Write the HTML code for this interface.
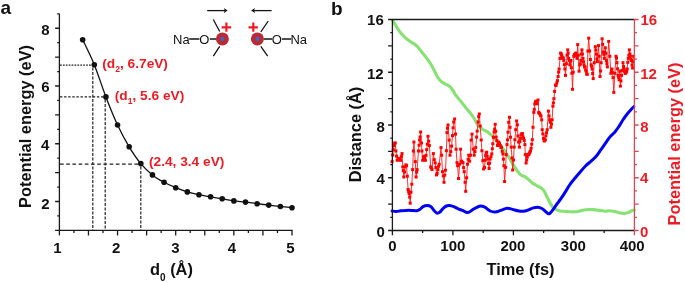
<!DOCTYPE html>
<html><head><meta charset="utf-8"><style>
html,body{margin:0;padding:0;background:#fff;width:685px;height:282px;overflow:hidden}
svg{display:block;will-change:transform}
text{font-family:"Liberation Sans",sans-serif}
</style></head><body>
<svg width="685" height="282" viewBox="0 0 685 282">
<rect width="685" height="282" fill="#fff"/>
<g stroke="#1a1a1a" stroke-width="1.3" fill="none">
<path d="M59.4,13.8V235.4"/>
<path d="M55.1,230.4H292.6"/>
<path d="M55.1,201.52H59.4 M55.1,172.64H59.4 M55.1,143.76H59.4 M55.1,114.88H59.4 M55.1,86H59.4 M55.1,57.12H59.4 M55.1,28.24H59.4 M57.2,215.96H59.4 M57.2,187.08H59.4 M57.2,158.2H59.4 M57.2,129.32H59.4 M57.2,100.44H59.4 M57.2,71.56H59.4 M57.2,42.68H59.4 M57.2,13.8H59.4 M88.47,230.4V235.4 M117.55,230.4V235.4 M146.62,230.4V235.4 M175.7,230.4V235.4 M204.78,230.4V235.4 M233.85,230.4V235.4 M262.93,230.4V235.4 M292,230.4V235.4 M73.94,230.4V233 M103.01,230.4V233 M132.09,230.4V233 M161.16,230.4V233 M190.24,230.4V233 M219.31,230.4V233 M248.39,230.4V233 M277.46,230.4V233"/>
</g>
<g stroke="#222" stroke-width="1.2" fill="none">
<path d="M60,65.2H92.4" stroke-dasharray="1.75 1.15"/>
<path d="M60,96.9H104" stroke-dasharray="2.4 1.7"/>
<path d="M60,164.1H139" stroke-dasharray="3.7 2.5"/>
<path d="M92.8,67.5V230.4" stroke-dasharray="3 1.5"/>
<path d="M105.2,99.5V230.4" stroke-dasharray="3 1.5"/>
<path d="M140.8,166.5V230.4" stroke-dasharray="3 1.5"/>
</g>
<path d="M82.66,39.7 C84.6,43.87 90.41,55.17 94.29,64.7 C98.17,74.23 102.04,86.85 105.92,96.9 C109.8,106.95 113.67,116.68 117.55,125 C121.43,133.32 125.3,140.37 129.18,146.8 C133.06,153.23 136.93,158.92 140.81,163.6 C144.69,168.28 148.56,171.78 152.44,174.9 C156.32,178.02 160.19,180.17 164.07,182.3 C167.95,184.43 171.82,186.1 175.7,187.7 C179.58,189.3 183.45,190.73 187.33,191.9 C191.21,193.07 195.08,193.88 198.96,194.7 C202.84,195.52 206.71,196.12 210.59,196.8 C214.47,197.48 218.34,198.12 222.22,198.8 C226.1,199.48 229.97,200.35 233.85,200.9 C237.73,201.45 241.6,201.63 245.48,202.1 C249.36,202.57 253.23,203.2 257.11,203.7 C260.99,204.2 264.86,204.63 268.74,205.1 C272.62,205.57 276.49,206.07 280.37,206.5 C284.25,206.93 290.06,207.5 292,207.7" stroke="#111" stroke-width="1.3" fill="none"/>
<g fill="#111">
<circle cx="82.66" cy="39.7" r="2.8"/>
<circle cx="94.29" cy="64.7" r="2.8"/>
<circle cx="105.92" cy="96.9" r="2.8"/>
<circle cx="117.55" cy="125" r="2.8"/>
<circle cx="129.18" cy="146.8" r="2.8"/>
<circle cx="140.81" cy="163.6" r="2.8"/>
<circle cx="152.44" cy="174.9" r="2.8"/>
<circle cx="164.07" cy="182.3" r="2.8"/>
<circle cx="175.7" cy="187.7" r="2.8"/>
<circle cx="187.33" cy="191.9" r="2.8"/>
<circle cx="198.96" cy="194.7" r="2.8"/>
<circle cx="210.59" cy="196.8" r="2.8"/>
<circle cx="222.22" cy="198.8" r="2.8"/>
<circle cx="233.85" cy="200.9" r="2.8"/>
<circle cx="245.48" cy="202.1" r="2.8"/>
<circle cx="257.11" cy="203.7" r="2.8"/>
<circle cx="268.74" cy="205.1" r="2.8"/>
<circle cx="280.37" cy="206.5" r="2.8"/>
<circle cx="292" cy="207.7" r="2.8"/>
</g>
<g font-family="Liberation Sans, sans-serif" font-weight="bold" font-size="15" fill="#111">
<text x="41.21" y="34.71">8</text>
<text x="41.21" y="91.94">6</text>
<text x="40.91" y="149.64">4</text>
<text x="41.21" y="209.05">2</text>
<text x="53.36" y="252.84">1</text>
<text x="111.96" y="252.8">2</text>
<text x="171.16" y="252.79">3</text>
<text x="227.81" y="252.64">4</text>
<text x="286.26" y="252.97">5</text>
</g>
<path d="M392.6,20.3 C393.05,21.02 394.32,23 395.3,24.6 C396.28,26.2 397.43,28.32 398.5,29.9 C399.57,31.48 400.45,32.68 401.7,34.1 C402.95,35.52 404.4,37.05 406,38.4 C407.6,39.75 409.72,41.13 411.3,42.2 C412.88,43.27 414.27,43.83 415.5,44.8 C416.73,45.77 417.63,46.77 418.7,48 C419.77,49.23 420.65,50.6 421.9,52.2 C423.15,53.8 424.78,55.72 426.2,57.6 C427.62,59.48 429.05,61.35 430.4,63.5 C431.75,65.65 433.13,68.3 434.3,70.5 C435.47,72.7 436.35,74.98 437.4,76.7 C438.45,78.42 439.35,79.63 440.6,80.8 C441.85,81.97 443.48,82.83 444.9,83.7 C446.32,84.57 447.87,85.03 449.1,86 C450.33,86.97 451.23,88.03 452.3,89.5 C453.37,90.97 454.25,93.03 455.5,94.8 C456.75,96.57 458.38,98.33 459.8,100.1 C461.22,101.87 462.58,103.63 464,105.4 C465.42,107.17 466.87,108.92 468.3,110.7 C469.73,112.48 471.4,114.42 472.6,116.1 C473.8,117.78 474.52,119.12 475.5,120.8 C476.48,122.48 477.28,124.75 478.5,126.2 C479.72,127.65 481.38,128.6 482.8,129.5 C484.22,130.4 485.58,130.65 487,131.6 C488.42,132.55 489.88,133.88 491.3,135.2 C492.72,136.52 494.08,137.9 495.5,139.5 C496.92,141.1 498.38,143.03 499.8,144.8 C501.22,146.57 502.58,148.15 504,150.1 C505.42,152.05 507.05,154.55 508.3,156.5 C509.55,158.45 510.43,160.03 511.5,161.8 C512.57,163.57 513.63,165.43 514.7,167.1 C515.77,168.77 516.85,170.48 517.9,171.8 C518.95,173.12 519.98,174.27 521,175 C522.02,175.73 522.82,175.52 524,176.2 C525.18,176.88 526.72,177.97 528.1,179.1 C529.48,180.23 530.88,181.93 532.3,183 C533.72,184.07 535.17,184.72 536.6,185.5 C538.03,186.28 539.67,186.8 540.9,187.7 C542.13,188.6 542.95,189.32 544,190.9 C545.05,192.48 546.13,195.08 547.2,197.2 C548.27,199.32 549.33,201.82 550.4,203.6 C551.47,205.38 552.35,206.77 553.6,207.9 C554.85,209.03 556.3,209.83 557.9,210.4 C559.5,210.97 561.25,211.07 563.2,211.3 C565.15,211.53 567.58,211.72 569.6,211.8 C571.62,211.88 573.47,211.98 575.3,211.8 C577.13,211.62 578.82,211.05 580.6,210.7 C582.38,210.35 583.87,209.88 586,209.7 C588.13,209.52 591.1,209.48 593.4,209.6 C595.7,209.72 597.85,210.13 599.8,210.4 C601.75,210.67 603.5,211.15 605.1,211.2 C606.7,211.25 607.8,210.65 609.4,210.7 C611,210.75 612.93,211.13 614.7,211.5 C616.47,211.87 618.4,212.55 620,212.9 C621.6,213.25 622.97,213.65 624.3,213.6 C625.63,213.55 626.77,213.08 628,212.6 C629.23,212.12 630.63,211.15 631.7,210.7 C632.77,210.25 633.95,210.03 634.4,209.9" stroke="#86E272" stroke-width="3.1" fill="none" stroke-linecap="round" stroke-linejoin="round"/>
<path d="M392.1,211 C392.82,211.08 394.98,211.55 396.4,211.5 C397.82,211.45 399,210.88 400.6,210.7 C402.2,210.52 404.22,210.45 406,210.4 C407.78,210.35 409.53,210.35 411.3,210.4 C413.07,210.45 415.18,210.87 416.6,210.7 C418.02,210.53 418.73,210.07 419.8,209.4 C420.87,208.73 421.77,207.33 423,206.7 C424.23,206.07 425.87,205.6 427.2,205.6 C428.53,205.6 429.93,205.98 431,206.7 C432.07,207.42 432.63,208.83 433.6,209.9 C434.57,210.97 435.73,212.75 436.8,213.1 C437.87,213.45 438.93,212.8 440,212 C441.07,211.2 442.13,209.3 443.2,208.3 C444.27,207.3 445.33,206.45 446.4,206 C447.47,205.55 448.37,205.48 449.6,205.6 C450.83,205.72 452.37,206.17 453.8,206.7 C455.23,207.23 456.77,208.18 458.2,208.8 C459.63,209.42 460.8,209.77 462.4,210.4 C464,211.03 466.02,212.77 467.8,212.6 C469.58,212.43 471.15,210.47 473.1,209.4 C475.05,208.33 477.55,206.57 479.5,206.2 C481.45,205.83 483.03,206.4 484.8,207.2 C486.57,208 488.33,210.2 490.1,211 C491.87,211.8 493.63,212.1 495.4,212 C497.17,211.9 498.75,211.02 500.7,210.4 C502.65,209.78 505.15,208.47 507.1,208.3 C509.05,208.13 510.45,208.95 512.4,209.4 C514.35,209.85 516.72,210.72 518.8,211 C520.88,211.28 523.18,211.33 524.9,211.1 C526.62,210.87 527.68,210.13 529.1,209.6 C530.52,209.07 531.97,208.3 533.4,207.9 C534.83,207.5 536.28,207.1 537.7,207.2 C539.12,207.3 540.67,207.85 541.9,208.5 C543.13,209.15 544.03,210.22 545.1,211.1 C546.17,211.98 547.42,213.52 548.3,213.8 C549.18,214.08 549.52,213.62 550.4,212.8 C551.28,211.98 552.53,210.33 553.6,208.9 C554.67,207.47 555.55,205.95 556.8,204.2 C558.05,202.45 559.68,200.43 561.1,198.4 C562.52,196.37 563.88,194.23 565.3,192 C566.72,189.77 568,187.3 569.6,185 C571.2,182.7 573.13,180.38 574.9,178.2 C576.67,176.02 578.43,173.93 580.2,171.9 C581.97,169.87 583.72,167.77 585.5,166 C587.28,164.23 589.12,162.93 590.9,161.3 C592.68,159.67 594.62,158.02 596.2,156.2 C597.78,154.38 598.98,152.38 600.4,150.4 C601.82,148.42 603.2,146.43 604.7,144.3 C606.2,142.17 607.73,139.62 609.4,137.6 C611.07,135.58 613.12,134.05 614.7,132.2 C616.28,130.35 617.48,128.62 618.9,126.5 C620.32,124.38 621.78,121.63 623.2,119.5 C624.62,117.37 625.98,115.48 627.4,113.7 C628.82,111.92 630.63,109.97 631.7,108.8 C632.77,107.63 633.45,107.05 633.8,106.7" stroke="#0000F5" stroke-width="3" fill="none" stroke-linecap="round" stroke-linejoin="round"/>
<polyline points="392.1,161.6 392.7,155 393.35,149.77 394,145.6 394.65,143.25 395.3,143 395.9,151 396.55,156.1 397.2,160.3 398.25,158.37 399.3,159 399.95,159.76 400.6,160.3 401.3,156.55 402,153.6 402.8,166.9 403.3,170.62 403.8,177 404.5,171.97 405.2,166.9 405.85,164.86 406.5,165.6 407.3,176.2 408.1,189.5 408.6,191.3 409.1,193.5 409.65,197.06 410.2,203.2 411,192.2 411.8,184.2 412.6,169.6 413.4,151 413.9,142 415.3,161.6 416.1,177 416.6,172.07 417.1,169.6 418.5,151 419.05,145.27 419.6,140 420.1,136.98 420.6,132 421.5,143 421.9,151 422.7,160.3 423.35,157.17 424,156.3 424.7,157.47 425.4,160.3 426.05,155.33 426.7,149.6 427.35,144.29 428,136.3 428.7,141.18 429.4,145.6 430.7,166.9 431.35,167.94 432,169.6 433.4,153.6 434.3,159.68 435.2,162.9 435.85,167.54 436.5,174.9 437.2,173.33 437.9,169.6 438.55,166.32 439.2,164.3 441,147.6 441.6,155.2 442.5,171.7 443.25,175.93 444,182.3 444.75,175.1 445.5,170.2 446.4,150.7 447,132.6 447.5,128.23 448,125 449.2,140.1 450,155.2 450.8,151.6 451.6,146.1 452.5,135.6 453.1,127.84 453.7,122 454.6,119 455.5,134.1 456.1,149.2 457,162.7 457.6,165.7 458.5,178.5 459.7,164.2 460.6,149.2 461.5,161.2 462.25,162.19 463,162.7 463.6,167.62 464.2,171.7 465.1,182.3 465.7,191.3 466.6,177.8 467.5,164.2 468.1,159.32 468.7,155.2 469.6,161.2 470.5,155.2 471.1,140.1 472,134.1 473.3,149.2 474.2,155.2 474.95,151.54 475.7,147.6 476.6,137.1 477.2,131.1 478.1,122 478.7,116.69 479.3,114 480.2,126 481.2,140 481.9,150.7 482.8,160.7 483.6,169 484.5,167.4 485.1,160.18 485.7,155.6 486.2,153.02 486.7,152.2 487.2,156.14 487.7,159 488.4,163.53 489.1,168.5 489.6,163.19 490.1,159 490.95,156.71 491.8,153.9 492.3,148.71 492.8,143.8 493.45,137.3 494.1,132 494.65,129.03 495.2,124.3 495.7,131.3 496.2,137.1 496.85,140.53 497.5,145.5 498.2,144.02 498.9,142.1 499.55,143.88 500.2,145.5 500.85,147.48 501.5,147.2 502.2,151.24 502.9,153.9 503.4,159.16 503.9,165.7 504.6,181.5 505.6,167.4 506.2,154.6 507,144.6 507.5,139.84 508,132.2 508.7,122.3 509.5,117.3 510,127.3 510.5,137.2 511.2,147.1 512,158 512.7,170 513.5,160 514.2,147.1 514.9,139.7 515.7,129.7 516.6,121 517.4,124.8 517.9,135.9 518.6,142.1 519.4,147.1 519.9,141.6 520.4,138.4 521.1,134.7 521.75,133.85 522.4,133.5 523,136.72 523.6,138.4 524.25,140.46 524.9,144.6 525.3,154.6 526.1,163 526.7,159.97 527.3,157 527.95,154.42 528.6,154.6 529.2,153.85 529.8,152.1 530.45,150.99 531.1,148.3 531.7,144.22 532.3,139.7 533,127.3 533.8,112.4 534.3,109.33 534.8,104 535.4,102.04 536,101.2 536.65,103.04 537.3,103.7 538,100 538.7,112.4 539.2,113.28 539.7,113.6 540.35,115.09 541,116.1 541.7,119.8 542.2,129.7 542.85,133.92 543.5,138.4 544.1,140.67 544.7,140.9 545.3,139.73 545.9,135.9 546.55,132.72 547.2,129.7 548.4,111.1 549.05,115.94 549.7,119.8 550.3,122.23 550.9,127.3 551.5,124.15 552.1,119.8 552.9,106.2 553.4,102.89 553.9,98.7 554.6,91.4 555.5,85 556.15,85.43 556.8,82.9 557.45,80.67 558.1,76.5 558.6,72.1 559.1,69 560,58.4 560.6,53.1 561.15,53.81 561.7,55.2 562.25,57.31 562.8,58.4 563.3,58.02 563.8,60.5 564.35,64.64 564.9,69 565.5,75.4 566.4,63.7 567,55.2 567.7,49.9 568.2,53.15 568.7,58.4 569.25,60.45 569.8,64.8 570.35,61.33 570.9,60.5 571.4,67.7 571.9,73.3 572.5,89.3 573.2,72.2 573.8,56.3 574.35,54.64 574.9,55.2 575.45,53.39 576,53.1 576.5,55.42 577,58.4 577.7,44.6 578.3,55.2 579.1,71.2 579.8,64.8 580.35,63.76 580.9,60.5 581.4,53.94 581.9,49.9 582.45,54 583,58.4 583.5,61.75 584,64.8 584.55,67 585.1,66.9 585.65,70.01 586.2,71.2 586.7,73.89 587.2,74.4 587.9,51 588.7,38.2 589.6,51 590.4,59.5 591.1,64.8 591.6,66.24 592.1,69 592.65,73.55 593.2,78.6 594.3,62.7 595.3,46.7 595.85,49.98 596.4,54.1 596.9,59 597.4,61.6 598.5,45.6 599.1,56.3 600,76.5 600.55,70.97 601.1,62.7 602.1,38.8 602.65,44.35 603.2,52 603.75,54.23 604.3,58.4 604.8,52.3 605.3,47.8 605.85,53.35 606.4,60.5 606.9,63.65 607.4,66.9 608.7,41.4 609.8,56.3 610.9,73.3 611.4,71.42 611.9,69 612.45,72.59 613,77.6 613.8,92.4 614.9,73.3 616,56.3 616.5,58.01 617,62.7 617.55,68.81 618.1,75.4 618.6,77.16 619.1,79.7 619.8,71.2 620.4,86.1 620.95,80.95 621.5,75.4 622.25,70.41 623,62.7 623.5,66.42 624,69 624.55,71.2 625.1,73.3 625.65,73.1 626.2,72.2 626.7,71.13 627.2,69 627.75,62.36 628.3,58.4 628.85,55.35 629.4,49.9 629.9,53.94 630.4,56.3 630.95,59.52 631.5,60.5 632.05,65.14 632.6,68 633.1,61.83 633.6,56.3" stroke="#FF1A1A" stroke-width="0.9" fill="none" stroke-linejoin="round"/>
<g fill="#FF0000">
<rect x="390.6" y="160.1" width="3" height="3"/>
<rect x="391.2" y="153.5" width="3" height="3"/>
<rect x="391.85" y="148.27" width="3" height="3"/>
<rect x="392.5" y="144.1" width="3" height="3"/>
<rect x="393.15" y="141.75" width="3" height="3"/>
<rect x="393.8" y="141.5" width="3" height="3"/>
<rect x="394.4" y="149.5" width="3" height="3"/>
<rect x="395.05" y="154.6" width="3" height="3"/>
<rect x="395.7" y="158.8" width="3" height="3"/>
<rect x="396.75" y="156.87" width="3" height="3"/>
<rect x="397.8" y="157.5" width="3" height="3"/>
<rect x="398.45" y="158.26" width="3" height="3"/>
<rect x="399.1" y="158.8" width="3" height="3"/>
<rect x="399.8" y="155.05" width="3" height="3"/>
<rect x="400.5" y="152.1" width="3" height="3"/>
<rect x="401.3" y="165.4" width="3" height="3"/>
<rect x="401.8" y="169.12" width="3" height="3"/>
<rect x="402.3" y="175.5" width="3" height="3"/>
<rect x="403" y="170.47" width="3" height="3"/>
<rect x="403.7" y="165.4" width="3" height="3"/>
<rect x="404.35" y="163.36" width="3" height="3"/>
<rect x="405" y="164.1" width="3" height="3"/>
<rect x="405.8" y="174.7" width="3" height="3"/>
<rect x="406.6" y="188" width="3" height="3"/>
<rect x="407.1" y="189.8" width="3" height="3"/>
<rect x="407.6" y="192" width="3" height="3"/>
<rect x="408.15" y="195.56" width="3" height="3"/>
<rect x="408.7" y="201.7" width="3" height="3"/>
<rect x="409.5" y="190.7" width="3" height="3"/>
<rect x="410.3" y="182.7" width="3" height="3"/>
<rect x="411.1" y="168.1" width="3" height="3"/>
<rect x="411.9" y="149.5" width="3" height="3"/>
<rect x="412.4" y="140.5" width="3" height="3"/>
<rect x="413.8" y="160.1" width="3" height="3"/>
<rect x="414.6" y="175.5" width="3" height="3"/>
<rect x="415.1" y="170.57" width="3" height="3"/>
<rect x="415.6" y="168.1" width="3" height="3"/>
<rect x="417" y="149.5" width="3" height="3"/>
<rect x="417.55" y="143.77" width="3" height="3"/>
<rect x="418.1" y="138.5" width="3" height="3"/>
<rect x="418.6" y="135.48" width="3" height="3"/>
<rect x="419.1" y="130.5" width="3" height="3"/>
<rect x="420" y="141.5" width="3" height="3"/>
<rect x="420.4" y="149.5" width="3" height="3"/>
<rect x="421.2" y="158.8" width="3" height="3"/>
<rect x="421.85" y="155.67" width="3" height="3"/>
<rect x="422.5" y="154.8" width="3" height="3"/>
<rect x="423.2" y="155.97" width="3" height="3"/>
<rect x="423.9" y="158.8" width="3" height="3"/>
<rect x="424.55" y="153.83" width="3" height="3"/>
<rect x="425.2" y="148.1" width="3" height="3"/>
<rect x="425.85" y="142.79" width="3" height="3"/>
<rect x="426.5" y="134.8" width="3" height="3"/>
<rect x="427.2" y="139.68" width="3" height="3"/>
<rect x="427.9" y="144.1" width="3" height="3"/>
<rect x="429.2" y="165.4" width="3" height="3"/>
<rect x="429.85" y="166.44" width="3" height="3"/>
<rect x="430.5" y="168.1" width="3" height="3"/>
<rect x="431.9" y="152.1" width="3" height="3"/>
<rect x="432.8" y="158.18" width="3" height="3"/>
<rect x="433.7" y="161.4" width="3" height="3"/>
<rect x="434.35" y="166.04" width="3" height="3"/>
<rect x="435" y="173.4" width="3" height="3"/>
<rect x="435.7" y="171.83" width="3" height="3"/>
<rect x="436.4" y="168.1" width="3" height="3"/>
<rect x="437.05" y="164.82" width="3" height="3"/>
<rect x="437.7" y="162.8" width="3" height="3"/>
<rect x="439.5" y="146.1" width="3" height="3"/>
<rect x="440.1" y="153.7" width="3" height="3"/>
<rect x="441" y="170.2" width="3" height="3"/>
<rect x="441.75" y="174.43" width="3" height="3"/>
<rect x="442.5" y="180.8" width="3" height="3"/>
<rect x="443.25" y="173.6" width="3" height="3"/>
<rect x="444" y="168.7" width="3" height="3"/>
<rect x="444.9" y="149.2" width="3" height="3"/>
<rect x="445.5" y="131.1" width="3" height="3"/>
<rect x="446" y="126.73" width="3" height="3"/>
<rect x="446.5" y="123.5" width="3" height="3"/>
<rect x="447.7" y="138.6" width="3" height="3"/>
<rect x="448.5" y="153.7" width="3" height="3"/>
<rect x="449.3" y="150.1" width="3" height="3"/>
<rect x="450.1" y="144.6" width="3" height="3"/>
<rect x="451" y="134.1" width="3" height="3"/>
<rect x="451.6" y="126.34" width="3" height="3"/>
<rect x="452.2" y="120.5" width="3" height="3"/>
<rect x="453.1" y="117.5" width="3" height="3"/>
<rect x="454" y="132.6" width="3" height="3"/>
<rect x="454.6" y="147.7" width="3" height="3"/>
<rect x="455.5" y="161.2" width="3" height="3"/>
<rect x="456.1" y="164.2" width="3" height="3"/>
<rect x="457" y="177" width="3" height="3"/>
<rect x="458.2" y="162.7" width="3" height="3"/>
<rect x="459.1" y="147.7" width="3" height="3"/>
<rect x="460" y="159.7" width="3" height="3"/>
<rect x="460.75" y="160.69" width="3" height="3"/>
<rect x="461.5" y="161.2" width="3" height="3"/>
<rect x="462.1" y="166.12" width="3" height="3"/>
<rect x="462.7" y="170.2" width="3" height="3"/>
<rect x="463.6" y="180.8" width="3" height="3"/>
<rect x="464.2" y="189.8" width="3" height="3"/>
<rect x="465.1" y="176.3" width="3" height="3"/>
<rect x="466" y="162.7" width="3" height="3"/>
<rect x="466.6" y="157.82" width="3" height="3"/>
<rect x="467.2" y="153.7" width="3" height="3"/>
<rect x="468.1" y="159.7" width="3" height="3"/>
<rect x="469" y="153.7" width="3" height="3"/>
<rect x="469.6" y="138.6" width="3" height="3"/>
<rect x="470.5" y="132.6" width="3" height="3"/>
<rect x="471.8" y="147.7" width="3" height="3"/>
<rect x="472.7" y="153.7" width="3" height="3"/>
<rect x="473.45" y="150.04" width="3" height="3"/>
<rect x="474.2" y="146.1" width="3" height="3"/>
<rect x="475.1" y="135.6" width="3" height="3"/>
<rect x="475.7" y="129.6" width="3" height="3"/>
<rect x="476.6" y="120.5" width="3" height="3"/>
<rect x="477.2" y="115.19" width="3" height="3"/>
<rect x="477.8" y="112.5" width="3" height="3"/>
<rect x="478.7" y="124.5" width="3" height="3"/>
<rect x="479.7" y="138.5" width="3" height="3"/>
<rect x="480.4" y="149.2" width="3" height="3"/>
<rect x="481.3" y="159.2" width="3" height="3"/>
<rect x="482.1" y="167.5" width="3" height="3"/>
<rect x="483" y="165.9" width="3" height="3"/>
<rect x="483.6" y="158.68" width="3" height="3"/>
<rect x="484.2" y="154.1" width="3" height="3"/>
<rect x="484.7" y="151.52" width="3" height="3"/>
<rect x="485.2" y="150.7" width="3" height="3"/>
<rect x="485.7" y="154.64" width="3" height="3"/>
<rect x="486.2" y="157.5" width="3" height="3"/>
<rect x="486.9" y="162.03" width="3" height="3"/>
<rect x="487.6" y="167" width="3" height="3"/>
<rect x="488.1" y="161.69" width="3" height="3"/>
<rect x="488.6" y="157.5" width="3" height="3"/>
<rect x="489.45" y="155.21" width="3" height="3"/>
<rect x="490.3" y="152.4" width="3" height="3"/>
<rect x="490.8" y="147.21" width="3" height="3"/>
<rect x="491.3" y="142.3" width="3" height="3"/>
<rect x="491.95" y="135.8" width="3" height="3"/>
<rect x="492.6" y="130.5" width="3" height="3"/>
<rect x="493.15" y="127.53" width="3" height="3"/>
<rect x="493.7" y="122.8" width="3" height="3"/>
<rect x="494.2" y="129.8" width="3" height="3"/>
<rect x="494.7" y="135.6" width="3" height="3"/>
<rect x="495.35" y="139.03" width="3" height="3"/>
<rect x="496" y="144" width="3" height="3"/>
<rect x="496.7" y="142.52" width="3" height="3"/>
<rect x="497.4" y="140.6" width="3" height="3"/>
<rect x="498.05" y="142.38" width="3" height="3"/>
<rect x="498.7" y="144" width="3" height="3"/>
<rect x="499.35" y="145.98" width="3" height="3"/>
<rect x="500" y="145.7" width="3" height="3"/>
<rect x="500.7" y="149.74" width="3" height="3"/>
<rect x="501.4" y="152.4" width="3" height="3"/>
<rect x="501.9" y="157.66" width="3" height="3"/>
<rect x="502.4" y="164.2" width="3" height="3"/>
<rect x="503.1" y="180" width="3" height="3"/>
<rect x="504.1" y="165.9" width="3" height="3"/>
<rect x="504.7" y="153.1" width="3" height="3"/>
<rect x="505.5" y="143.1" width="3" height="3"/>
<rect x="506" y="138.34" width="3" height="3"/>
<rect x="506.5" y="130.7" width="3" height="3"/>
<rect x="507.2" y="120.8" width="3" height="3"/>
<rect x="508" y="115.8" width="3" height="3"/>
<rect x="508.5" y="125.8" width="3" height="3"/>
<rect x="509" y="135.7" width="3" height="3"/>
<rect x="509.7" y="145.6" width="3" height="3"/>
<rect x="510.5" y="156.5" width="3" height="3"/>
<rect x="511.2" y="168.5" width="3" height="3"/>
<rect x="512" y="158.5" width="3" height="3"/>
<rect x="512.7" y="145.6" width="3" height="3"/>
<rect x="513.4" y="138.2" width="3" height="3"/>
<rect x="514.2" y="128.2" width="3" height="3"/>
<rect x="515.1" y="119.5" width="3" height="3"/>
<rect x="515.9" y="123.3" width="3" height="3"/>
<rect x="516.4" y="134.4" width="3" height="3"/>
<rect x="517.1" y="140.6" width="3" height="3"/>
<rect x="517.9" y="145.6" width="3" height="3"/>
<rect x="518.4" y="140.1" width="3" height="3"/>
<rect x="518.9" y="136.9" width="3" height="3"/>
<rect x="519.6" y="133.2" width="3" height="3"/>
<rect x="520.25" y="132.35" width="3" height="3"/>
<rect x="520.9" y="132" width="3" height="3"/>
<rect x="521.5" y="135.22" width="3" height="3"/>
<rect x="522.1" y="136.9" width="3" height="3"/>
<rect x="522.75" y="138.96" width="3" height="3"/>
<rect x="523.4" y="143.1" width="3" height="3"/>
<rect x="523.8" y="153.1" width="3" height="3"/>
<rect x="524.6" y="161.5" width="3" height="3"/>
<rect x="525.2" y="158.47" width="3" height="3"/>
<rect x="525.8" y="155.5" width="3" height="3"/>
<rect x="526.45" y="152.92" width="3" height="3"/>
<rect x="527.1" y="153.1" width="3" height="3"/>
<rect x="527.7" y="152.35" width="3" height="3"/>
<rect x="528.3" y="150.6" width="3" height="3"/>
<rect x="528.95" y="149.49" width="3" height="3"/>
<rect x="529.6" y="146.8" width="3" height="3"/>
<rect x="530.2" y="142.72" width="3" height="3"/>
<rect x="530.8" y="138.2" width="3" height="3"/>
<rect x="531.5" y="125.8" width="3" height="3"/>
<rect x="532.3" y="110.9" width="3" height="3"/>
<rect x="532.8" y="107.83" width="3" height="3"/>
<rect x="533.3" y="102.5" width="3" height="3"/>
<rect x="533.9" y="100.54" width="3" height="3"/>
<rect x="534.5" y="99.7" width="3" height="3"/>
<rect x="535.15" y="101.54" width="3" height="3"/>
<rect x="535.8" y="102.2" width="3" height="3"/>
<rect x="536.5" y="98.5" width="3" height="3"/>
<rect x="537.2" y="110.9" width="3" height="3"/>
<rect x="537.7" y="111.78" width="3" height="3"/>
<rect x="538.2" y="112.1" width="3" height="3"/>
<rect x="538.85" y="113.59" width="3" height="3"/>
<rect x="539.5" y="114.6" width="3" height="3"/>
<rect x="540.2" y="118.3" width="3" height="3"/>
<rect x="540.7" y="128.2" width="3" height="3"/>
<rect x="541.35" y="132.42" width="3" height="3"/>
<rect x="542" y="136.9" width="3" height="3"/>
<rect x="542.6" y="139.17" width="3" height="3"/>
<rect x="543.2" y="139.4" width="3" height="3"/>
<rect x="543.8" y="138.23" width="3" height="3"/>
<rect x="544.4" y="134.4" width="3" height="3"/>
<rect x="545.05" y="131.22" width="3" height="3"/>
<rect x="545.7" y="128.2" width="3" height="3"/>
<rect x="546.9" y="109.6" width="3" height="3"/>
<rect x="547.55" y="114.44" width="3" height="3"/>
<rect x="548.2" y="118.3" width="3" height="3"/>
<rect x="548.8" y="120.73" width="3" height="3"/>
<rect x="549.4" y="125.8" width="3" height="3"/>
<rect x="550" y="122.65" width="3" height="3"/>
<rect x="550.6" y="118.3" width="3" height="3"/>
<rect x="551.4" y="104.7" width="3" height="3"/>
<rect x="551.9" y="101.39" width="3" height="3"/>
<rect x="552.4" y="97.2" width="3" height="3"/>
<rect x="553.1" y="89.9" width="3" height="3"/>
<rect x="554" y="83.5" width="3" height="3"/>
<rect x="554.65" y="83.93" width="3" height="3"/>
<rect x="555.3" y="81.4" width="3" height="3"/>
<rect x="555.95" y="79.17" width="3" height="3"/>
<rect x="556.6" y="75" width="3" height="3"/>
<rect x="557.1" y="70.6" width="3" height="3"/>
<rect x="557.6" y="67.5" width="3" height="3"/>
<rect x="558.5" y="56.9" width="3" height="3"/>
<rect x="559.1" y="51.6" width="3" height="3"/>
<rect x="559.65" y="52.31" width="3" height="3"/>
<rect x="560.2" y="53.7" width="3" height="3"/>
<rect x="560.75" y="55.81" width="3" height="3"/>
<rect x="561.3" y="56.9" width="3" height="3"/>
<rect x="561.8" y="56.52" width="3" height="3"/>
<rect x="562.3" y="59" width="3" height="3"/>
<rect x="562.85" y="63.14" width="3" height="3"/>
<rect x="563.4" y="67.5" width="3" height="3"/>
<rect x="564" y="73.9" width="3" height="3"/>
<rect x="564.9" y="62.2" width="3" height="3"/>
<rect x="565.5" y="53.7" width="3" height="3"/>
<rect x="566.2" y="48.4" width="3" height="3"/>
<rect x="566.7" y="51.65" width="3" height="3"/>
<rect x="567.2" y="56.9" width="3" height="3"/>
<rect x="567.75" y="58.95" width="3" height="3"/>
<rect x="568.3" y="63.3" width="3" height="3"/>
<rect x="568.85" y="59.83" width="3" height="3"/>
<rect x="569.4" y="59" width="3" height="3"/>
<rect x="569.9" y="66.2" width="3" height="3"/>
<rect x="570.4" y="71.8" width="3" height="3"/>
<rect x="571" y="87.8" width="3" height="3"/>
<rect x="571.7" y="70.7" width="3" height="3"/>
<rect x="572.3" y="54.8" width="3" height="3"/>
<rect x="572.85" y="53.14" width="3" height="3"/>
<rect x="573.4" y="53.7" width="3" height="3"/>
<rect x="573.95" y="51.89" width="3" height="3"/>
<rect x="574.5" y="51.6" width="3" height="3"/>
<rect x="575" y="53.92" width="3" height="3"/>
<rect x="575.5" y="56.9" width="3" height="3"/>
<rect x="576.2" y="43.1" width="3" height="3"/>
<rect x="576.8" y="53.7" width="3" height="3"/>
<rect x="577.6" y="69.7" width="3" height="3"/>
<rect x="578.3" y="63.3" width="3" height="3"/>
<rect x="578.85" y="62.26" width="3" height="3"/>
<rect x="579.4" y="59" width="3" height="3"/>
<rect x="579.9" y="52.44" width="3" height="3"/>
<rect x="580.4" y="48.4" width="3" height="3"/>
<rect x="580.95" y="52.5" width="3" height="3"/>
<rect x="581.5" y="56.9" width="3" height="3"/>
<rect x="582" y="60.25" width="3" height="3"/>
<rect x="582.5" y="63.3" width="3" height="3"/>
<rect x="583.05" y="65.5" width="3" height="3"/>
<rect x="583.6" y="65.4" width="3" height="3"/>
<rect x="584.15" y="68.51" width="3" height="3"/>
<rect x="584.7" y="69.7" width="3" height="3"/>
<rect x="585.2" y="72.39" width="3" height="3"/>
<rect x="585.7" y="72.9" width="3" height="3"/>
<rect x="586.4" y="49.5" width="3" height="3"/>
<rect x="587.2" y="36.7" width="3" height="3"/>
<rect x="588.1" y="49.5" width="3" height="3"/>
<rect x="588.9" y="58" width="3" height="3"/>
<rect x="589.6" y="63.3" width="3" height="3"/>
<rect x="590.1" y="64.74" width="3" height="3"/>
<rect x="590.6" y="67.5" width="3" height="3"/>
<rect x="591.15" y="72.05" width="3" height="3"/>
<rect x="591.7" y="77.1" width="3" height="3"/>
<rect x="592.8" y="61.2" width="3" height="3"/>
<rect x="593.8" y="45.2" width="3" height="3"/>
<rect x="594.35" y="48.48" width="3" height="3"/>
<rect x="594.9" y="52.6" width="3" height="3"/>
<rect x="595.4" y="57.5" width="3" height="3"/>
<rect x="595.9" y="60.1" width="3" height="3"/>
<rect x="597" y="44.1" width="3" height="3"/>
<rect x="597.6" y="54.8" width="3" height="3"/>
<rect x="598.5" y="75" width="3" height="3"/>
<rect x="599.05" y="69.47" width="3" height="3"/>
<rect x="599.6" y="61.2" width="3" height="3"/>
<rect x="600.6" y="37.3" width="3" height="3"/>
<rect x="601.15" y="42.85" width="3" height="3"/>
<rect x="601.7" y="50.5" width="3" height="3"/>
<rect x="602.25" y="52.73" width="3" height="3"/>
<rect x="602.8" y="56.9" width="3" height="3"/>
<rect x="603.3" y="50.8" width="3" height="3"/>
<rect x="603.8" y="46.3" width="3" height="3"/>
<rect x="604.35" y="51.85" width="3" height="3"/>
<rect x="604.9" y="59" width="3" height="3"/>
<rect x="605.4" y="62.15" width="3" height="3"/>
<rect x="605.9" y="65.4" width="3" height="3"/>
<rect x="607.2" y="39.9" width="3" height="3"/>
<rect x="608.3" y="54.8" width="3" height="3"/>
<rect x="609.4" y="71.8" width="3" height="3"/>
<rect x="609.9" y="69.92" width="3" height="3"/>
<rect x="610.4" y="67.5" width="3" height="3"/>
<rect x="610.95" y="71.09" width="3" height="3"/>
<rect x="611.5" y="76.1" width="3" height="3"/>
<rect x="612.3" y="90.9" width="3" height="3"/>
<rect x="613.4" y="71.8" width="3" height="3"/>
<rect x="614.5" y="54.8" width="3" height="3"/>
<rect x="615" y="56.51" width="3" height="3"/>
<rect x="615.5" y="61.2" width="3" height="3"/>
<rect x="616.05" y="67.31" width="3" height="3"/>
<rect x="616.6" y="73.9" width="3" height="3"/>
<rect x="617.1" y="75.66" width="3" height="3"/>
<rect x="617.6" y="78.2" width="3" height="3"/>
<rect x="618.3" y="69.7" width="3" height="3"/>
<rect x="618.9" y="84.6" width="3" height="3"/>
<rect x="619.45" y="79.45" width="3" height="3"/>
<rect x="620" y="73.9" width="3" height="3"/>
<rect x="620.75" y="68.91" width="3" height="3"/>
<rect x="621.5" y="61.2" width="3" height="3"/>
<rect x="622" y="64.92" width="3" height="3"/>
<rect x="622.5" y="67.5" width="3" height="3"/>
<rect x="623.05" y="69.7" width="3" height="3"/>
<rect x="623.6" y="71.8" width="3" height="3"/>
<rect x="624.15" y="71.6" width="3" height="3"/>
<rect x="624.7" y="70.7" width="3" height="3"/>
<rect x="625.2" y="69.63" width="3" height="3"/>
<rect x="625.7" y="67.5" width="3" height="3"/>
<rect x="626.25" y="60.86" width="3" height="3"/>
<rect x="626.8" y="56.9" width="3" height="3"/>
<rect x="627.35" y="53.85" width="3" height="3"/>
<rect x="627.9" y="48.4" width="3" height="3"/>
<rect x="628.4" y="52.44" width="3" height="3"/>
<rect x="628.9" y="54.8" width="3" height="3"/>
<rect x="629.45" y="58.02" width="3" height="3"/>
<rect x="630" y="59" width="3" height="3"/>
<rect x="630.55" y="63.64" width="3" height="3"/>
<rect x="631.1" y="66.5" width="3" height="3"/>
<rect x="631.6" y="60.33" width="3" height="3"/>
<rect x="632.1" y="54.8" width="3" height="3"/>
</g>
<g fill="none" stroke-width="1.3">
<path d="M392.4,18.9V230.5H634.4 M392.4,19.5H634.4" stroke="#1a1a1a"/>
<path d="M388.1,230.5H392.4 M388.1,204.12H392.4 M388.1,177.75H392.4 M388.1,151.38H392.4 M388.1,125H392.4 M388.1,98.62H392.4 M388.1,72.25H392.4 M388.1,45.88H392.4 M388.1,19.5H392.4 M390.3,217.31H392.4 M390.3,190.94H392.4 M390.3,164.56H392.4 M390.3,138.19H392.4 M390.3,111.81H392.4 M390.3,85.44H392.4 M390.3,59.06H392.4 M390.3,32.69H392.4 M392.4,230.5V235.2 M452.9,230.5V235.2 M513.4,230.5V235.2 M573.9,230.5V235.2 M422.65,230.5V232.9 M483.15,230.5V232.9 M543.65,230.5V232.9 M604.15,230.5V232.9" stroke="#1a1a1a"/>
<path d="M634.4,18.9V235.2 M634.4,230.5H638.6 M634.4,204.12H638.6 M634.4,177.75H638.6 M634.4,151.38H638.6 M634.4,125H638.6 M634.4,98.62H638.6 M634.4,72.25H638.6 M634.4,45.88H638.6 M634.4,19.5H638.6 M634.4,217.31H637 M634.4,190.94H637 M634.4,164.56H637 M634.4,138.19H637 M634.4,111.81H637 M634.4,85.44H637 M634.4,59.06H637 M634.4,32.69H637" stroke="#DA4A56"/>
</g>
<g font-family="Liberation Sans, sans-serif" font-weight="bold" font-size="15" fill="#111">
<text x="367.09" y="24.94">16</text>
<text x="366.99" y="78.65">12</text>
<text x="376.51" y="131.99">8</text>
<text x="376.51" y="183.69">4</text>
<text x="376.51" y="237.29">0</text>
<text x="388.21" y="251.14">0</text>
<text x="440.3" y="250.99">100</text>
<text x="500.4" y="251.09">200</text>
<text x="560.8" y="250.69">300</text>
<text x="619.65" y="250.59">400</text>
</g>
<g font-family="Liberation Sans, sans-serif" font-weight="bold" font-size="15" fill="#ED1C24">
<text x="640.49" y="24.74">16</text>
<text x="640.19" y="78.75">12</text>
<text x="640.26" y="132.44">8</text>
<text x="639.91" y="183.49">4</text>
<text x="640.06" y="237.49">0</text>
</g>
<g font-family="Liberation Sans, sans-serif" font-weight="bold" fill="#111">
<text x="0.5" y="14.4" font-size="19">a</text>
<text x="330.9" y="14.7" font-size="19">b</text>
<text font-size="16.4" transform="translate(30.8,208) rotate(-90)">Potential energy (eV)</text>
<text font-size="16.4" transform="translate(360.6,182.3) rotate(-90)">Distance (Å)</text>
<text font-size="16.4" x="486.5" y="274.6">Time (fs)</text>
<text font-size="16.4" x="150" y="275">d<tspan font-size="10" dy="5.6">0</tspan><tspan dy="-5.6"> (Å)</tspan></text>
</g>
<text font-family="Liberation Sans, sans-serif" font-weight="bold" font-size="16.4" fill="#ED1C24" transform="translate(680,225.5) rotate(-90)">Potential energy (eV)</text>
<g font-family="Liberation Sans, sans-serif" font-weight="bold" font-size="13.7" fill="#ED1C24">
<text x="102.3" y="67.9">(d<tspan font-size="8.6" dy="3.8">2</tspan><tspan dy="-3.8">, 6.7eV)</tspan></text>
<text x="114.8" y="100.2">(d<tspan font-size="8.6" dy="3.8">1</tspan><tspan dy="-3.8">, 5.6 eV)</tspan></text>
<text x="149" y="165.6">(2.4, 3.4 eV)</text>
</g>
<g stroke="#151515" stroke-width="1.3" fill="none">
<path d="M189.2,39H199.4 M209.8,39H216 M213.3,19.5L219.7,31.5 M219.7,46.3L213.3,56.1"/>
<path d="M281.9,39H291.2 M263.5,39H272.2 M268.3,21L260.8,31.8 M260.8,46.3L267.7,56.1"/>
<path d="M207.2,10.6H225.5"/><path d="M271.6,10.6H253.5"/>
</g>
<path d="M227.6,10.6 L223.8,7.9 L224.8,10.6 L223.8,13.3Z" fill="#111"/>
<path d="M251.2,10.6 L255,7.9 L254,10.6 L255,13.3Z" fill="#111"/>
<circle cx="222.4" cy="38.9" r="6.5" fill="#BA2A35"/><circle cx="222.4" cy="38.9" r="2.1" fill="#3D66C6"/>
<circle cx="257.4" cy="38.9" r="6.5" fill="#BA2A35"/><circle cx="257.4" cy="38.9" r="2.1" fill="#3D66C6"/>
<path d="M221.6,27.3H231.2 M226.4,22.6V31.8 M248.5,27.3H257.9 M253.3,22.6V31.8" stroke="#ED1C24" stroke-width="2.2"/>
<g font-family="Liberation Sans, sans-serif" font-size="13" fill="#111">
<text x="173" y="43.6">Na</text><text x="199.2" y="43.6">O</text>
<text x="271.7" y="43.6">O</text><text x="290.4" y="43.6">Na</text>
</g>
</svg>
</body></html>
